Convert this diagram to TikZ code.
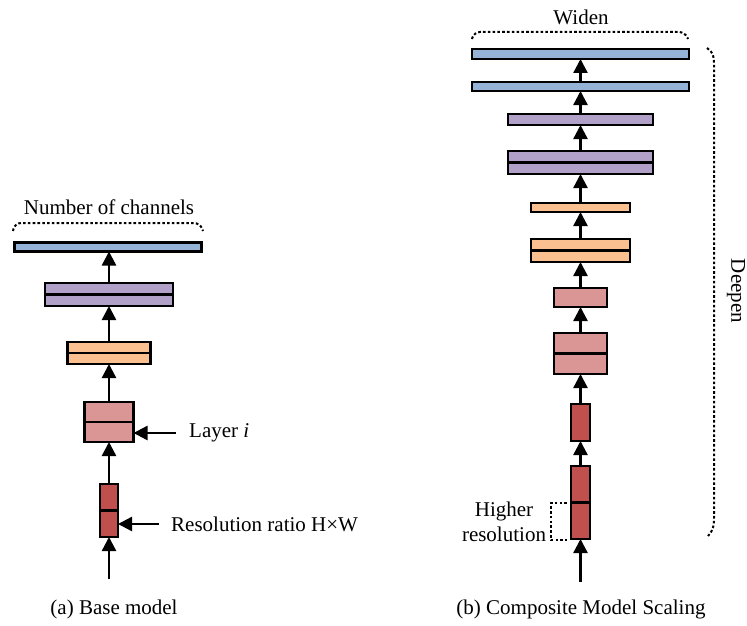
\documentclass[tikz,border=0pt]{standalone}
\usepackage{fontspec}
\setmainfont{Liberation Serif}
\usetikzlibrary{arrows.meta}

% layer colours
\definecolor{cblue}{HTML}{95B3D7}
\definecolor{cpurple}{HTML}{B1A0C7}
\definecolor{corange}{HTML}{FAC090}
\definecolor{cpink}{HTML}{D99694}
\definecolor{cred}{HTML}{C0504D}

\tikzset{
  layerbox/.style={draw=black, line width=2.5pt, inner sep=0pt, outer sep=0pt},
  flow/.style={line width=2.4pt, -{Triangle[width=14pt,length=14pt]}},
  dotbr/.style={line width=2pt, dash pattern=on 2.6pt off 2.2pt},
  lbl/.style={font=\fontsize{21}{25}\selectfont, inner sep=0pt},
}

% \layer{name}{colour}{centre x}{centre y}{width}{height}
\newcommand{\layer}[6]{%
  \node[layerbox, fill=#2, minimum width=#5pt, minimum height=#6pt] (#1) at (#3,#4) {};}
% same, split by a middle line
\newcommand{\dlayer}[6]{%
  \layer{#1}{#2}{#3}{#4}{#5}{#6}
  \draw[line width=2.5pt] (#1.west) -- (#1.east);}

\begin{document}
\begin{tikzpicture}[x=1pt,y=-1pt]
\useasboundingbox (0,0) rectangle (747,626);

% ---------------- (a) base model ----------------
\layer{ablue}{cblue}{108}{247}{187}{9}
\dlayer{apurple}{cpurple}{109}{294.5}{128}{23}
\dlayer{aorange}{corange}{109}{353}{83}{22}
\dlayer{apink}{cpink}{109}{422}{49}{40}
\dlayer{ared}{cred}{109}{510.5}{18}{53}
\coordinate (ain) at (109,579);

\draw[flow] (ain) -- (ared);
\draw[flow] (ared) -- (apink);
\draw[flow] (apink) -- (aorange);
\draw[flow] (aorange) -- (apurple);
\draw[flow] (apurple) -- (apurple |- ablue.south);

\node[lbl] (nch) at (109,207) {Number of channels};
\draw[dotbr, rounded corners=6pt] (13,231) -- (15,223) -- (200,223) -- (203,231);

\node[lbl, anchor=west] (layi) at (189,433) {Layer \textit{i}};
\coordinate (layfrom) at (176,433);
\draw[flow] (layfrom) -- (apink.east |- layfrom);

\node[lbl, anchor=west] (resr) at (171,524) {Resolution ratio H×W};
\coordinate (resfrom) at (159,524);
\draw[flow] (resfrom) -- (ared.east |- resfrom);

\node[lbl] (capa) at (114,609) {(a) Base model};

% ---------------- (b) composite model scaling ----------------
\layer{bblueA}{cblue}{580.5}{54}{217}{10}
\layer{bblueB}{cblue}{580.5}{86.5}{217}{9}
\layer{bpurpleA}{cpurple}{580.5}{119.5}{145}{11}
\dlayer{bpurpleB}{cpurple}{580.5}{162.5}{145}{23}
\layer{borangeA}{corange}{580.5}{207.5}{99}{9}
\dlayer{borangeB}{corange}{580.5}{250.5}{99}{23}
\layer{bpinkA}{cpink}{580.5}{297.5}{53}{19}
\dlayer{bpinkB}{cpink}{580.5}{353.5}{53}{41}
\layer{bredA}{cred}{580.5}{422.5}{19}{37}
\dlayer{bredB}{cred}{580.5}{502.5}{19}{73}
\coordinate (bin) at (580.5,582);

\draw[flow] (bin) -- (bredB);
\draw[flow] (bredB) -- (bredA);
\draw[flow] (bredA) -- (bpinkB);
\draw[flow] (bpinkB) -- (bpinkA);
\draw[flow] (bpinkA) -- (borangeB);
\draw[flow] (borangeB) -- (borangeA);
\draw[flow] (borangeA) -- (bpurpleB);
\draw[flow] (bpurpleB) -- (bpurpleA);
\draw[flow] (bpurpleA) -- (bblueB);
\draw[flow] (bblueB) -- (bblueA);

\node[lbl] (widen) at (581,17) {Widen};
\draw[dotbr, rounded corners=6pt] (472,39) -- (474,32) -- (685,32) -- (688,39);

\draw[dotbr] (707,48) .. controls (713,52) and (714,56) .. (714,64)
  -- (714,518) .. controls (714,528) and (712,532) .. (708,536);
\node[lbl, rotate=-90] (deepen) at (736,291) {Deepen};

\node[lbl, align=center] (hres) at (504,522) {Higher\\resolution};
\draw[dotbr] (567,503) -- (551,503) -- (551,540) -- (567,540);

\node[lbl] (capb) at (581,609) {(b) Composite Model Scaling};
\end{tikzpicture}
\end{document}
